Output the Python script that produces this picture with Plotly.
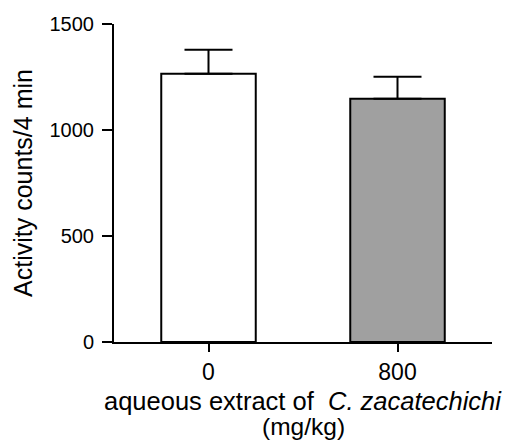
import plotly.graph_objects as go

categories = ["0", "800"]
means = [1265, 1147]
sem_upper = [113, 104]
colors = ["#ffffff", "#a0a0a0"]
y_ticks = [0, 500, 1000, 1500]
x_title_lines = ["aqueous extract of&nbsp;&nbsp;<i>C. zacatechichi</i>", "(mg/kg)"]

fig = go.Figure()
fig.add_trace(go.Bar(
    x=categories, y=means, width=0.5,
    marker=dict(color=colors, line=dict(color="black", width=2)),
    error_y=dict(type="data", symmetric=False, array=sem_upper,
                 arrayminus=[0, 0], color="black", thickness=2, width=24),
))

font = "Liberation Sans, Arial, sans-serif"
fig.update_layout(
    width=506, height=442,
    margin=dict(l=114, r=14, t=24, b=100),
    plot_bgcolor="white", paper_bgcolor="white",
    showlegend=False,
    font=dict(family=font, size=18, color="black"),
    xaxis=dict(
        range=[-0.5, 1.5], showline=True, linecolor="black", linewidth=2,
        ticks="outside", ticklen=8, tickwidth=2, tickcolor="black",
        tickfont=dict(size=23), automargin=False,
        showgrid=False, zeroline=False,
    ),
    yaxis=dict(
        range=[0, 1500], tickvals=y_ticks, showline=True, linecolor="black",
        linewidth=2, ticks="outside", ticklen=10, tickwidth=2, tickcolor="black",
        tickfont=dict(size=20), ticklabelstandoff=4, automargin=False,
        title=dict(text="Activity counts/4 min", font=dict(size=25), standoff=10),
        showgrid=False, zeroline=False,
    ),
)

for text, ypos, fs in zip(x_title_lines, [-0.185, -0.265], [25.5, 24.5]):
    fig.add_annotation(text=text, xref="paper", yref="paper", x=0.5, y=ypos,
                       xanchor="center", yanchor="middle", showarrow=False,
                       font=dict(size=fs, family=font, color="black"))

fig.write_html("out.html")
